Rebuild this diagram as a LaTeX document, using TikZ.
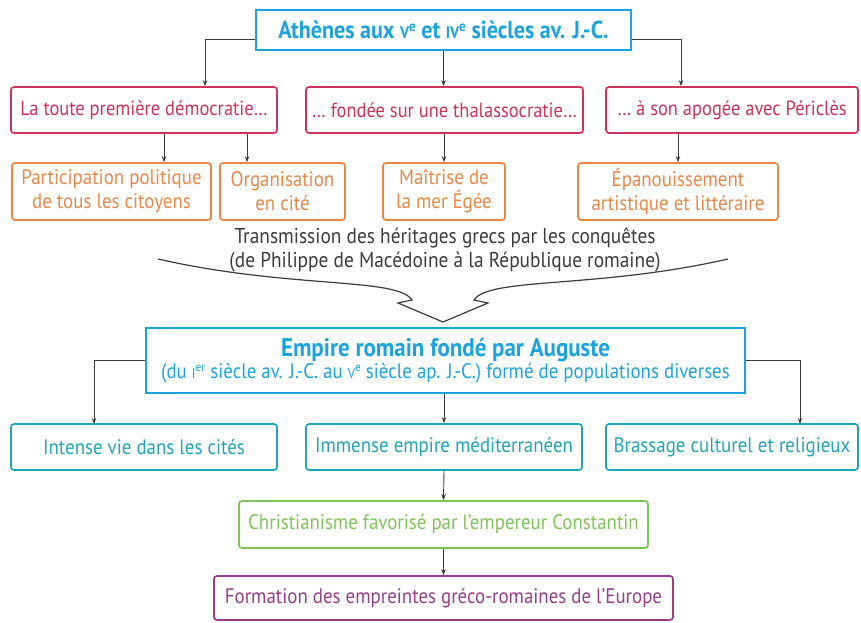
\documentclass[tikz,border=0pt]{standalone}
\usepackage{fontspec}
\setmainfont{PT Sans}[FakeStretch=0.9]
\usetikzlibrary{arrows.meta,positioning}

\definecolor{athcyan}{RGB}{27,163,222}
\definecolor{athred}{RGB}{204,52,92}
\definecolor{athorange}{RGB}{232,135,72}
\definecolor{romteal}{RGB}{32,165,182}
\definecolor{romgreen}{RGB}{126,196,88}
\definecolor{rompurple}{RGB}{150,62,140}
\definecolor{linkgray}{RGB}{60,60,60}

\newcommand{\romsmall}[1]{\scalebox{0.68}{#1}}
\newcommand{\supsmall}[1]{\raisebox{0.6ex}{\scalebox{0.6}{#1}}}

\begin{document}
\begin{tikzpicture}[x=1pt, y=-1pt,
    box/.style={draw, line width=1.7pt, rounded corners=3pt, align=center, inner sep=1pt, font=\fontsize{21}{24}\selectfont},
    headbox/.style={draw=athcyan, line width=2.4pt, text=athcyan, align=center, inner sep=1pt},
    arr/.style={-{Stealth[length=6pt, width=4.5pt]}, line width=0.9pt, linkgray},
]
\useasboundingbox (0,0) rectangle (861,622);

% Athens title
\node[headbox, minimum width=375pt, minimum height=40pt, font=\fontsize{24.5}{28}\selectfont\bfseries] (athens) at (443.5,30) {Athènes aux \romsmall{V}\supsmall{e} et \romsmall{IV}\supsmall{e} siècles av. J.-C.};

% Red row
\node[box, draw=athred, text=athred, minimum width=266pt, minimum height=46pt, font=\fontsize{20.5}{24}\selectfont] (demo) at (144,110) {La toute première démocratie…};
\node[box, draw=athred, text=athred, minimum width=277pt, minimum height=46pt, font=\fontsize{20.5}{24}\selectfont] (thalasso) at (444.5,110) {… fondée sur une thalassocratie…};
\node[box, draw=athred, text=athred, minimum width=252pt, minimum height=46pt, font=\fontsize{20.5}{24}\selectfont] (pericles) at (732,110) {… à son apogée avec Périclès};

% Orange row
\node[box, draw=athorange, text=athorange, minimum width=199pt, minimum height=57pt] (particip) at (111.5,191.5) {Participation politique\\de tous les citoyens};
\node[box, draw=athorange, text=athorange, minimum width=125pt, minimum height=57pt] (cite) at (282.5,191.5) {Organisation\\en cité};
\node[box, draw=athorange, text=athorange, minimum width=122pt, minimum height=57pt] (egee) at (444,191.5) {Maîtrise de\\la mer Égée};
\node[box, draw=athorange, text=athorange, minimum width=200pt, minimum height=57pt] (epanou) at (678,191.5) {Épanouissement\\artistique et littéraire};

% Transmission
\node[align=center, text=linkgray, font=\fontsize{21.5}{24}\selectfont] (transmis) at (445,250) {Transmission des héritages grecs par les conquêtes\\(de Philippe de Macédoine à la République romaine)};

% Roman empire title
\node[headbox, minimum width=599pt, minimum height=65pt] (empire) at (445.5,360.5) {{\fontsize{25.5}{28}\selectfont\bfseries Empire romain fondé par Auguste}\\{\fontsize{21}{24}\selectfont (du \romsmall{I}\supsmall{er} siècle av. J.-C. au \romsmall{V}\supsmall{e} siècle ap. J.-C.) formé de populations diverses}};

% Teal row
\node[box, draw=romteal, text=romteal, minimum width=266pt, minimum height=46pt] (cites) at (144,447) {Intense vie dans les cités};
\node[box, draw=romteal, text=romteal, minimum width=276pt, minimum height=46pt] (mediter) at (444,447) {Immense empire méditerranéen};
\node[box, draw=romteal, text=romteal, minimum width=252pt, minimum height=46pt] (brassage) at (732,447) {Brassage culturel et religieux};

% Green and purple
\node[box, draw=romgreen, text=romgreen, minimum width=409pt, minimum height=47pt] (christ) at (443.5,524.5) {Christianisme favorisé par l’empereur Constantin};
\node[box, draw=rompurple, text=rompurple, minimum width=459pt, minimum height=44pt] (europe) at (443.5,598) {Formation des empreintes gréco-romaines de l’Europe};

% Arrows from Athens
\draw[arr] ([yshift=-9pt]athens.west) -| ([xshift=61pt]demo.north);
\draw[arr] (athens.south) -- (athens.south |- thalasso.north);
\draw[arr] ([yshift=-9pt]athens.east) -| ([xshift=-51pt]pericles.north);
\draw[arr] ([xshift=20pt]demo.south) -- ([xshift=20pt]demo.south |- particip.north);
\draw[arr] ([xshift=103pt]demo.south) -- ([xshift=103pt]demo.south |- cite.north);
\draw[arr] (egee.north |- thalasso.south) -- (egee.north);
\draw[arr] (epanou.north |- pericles.south) -- (epanou.north);

% Big merging arrow
\coordinate (lstart) at (158,259);
\coordinate (rstart) at (728,259);
\coordinate (tip) at (443,322);
\draw[linkgray, line width=1.2pt, line join=miter] (lstart) .. controls (290,289) and (397,277) .. (412,300) -- (398,303) -- (tip) -- (488,303) -- (474,300) .. controls (489,277) and (596,289) .. (rstart);

% Arrows from Empire
\draw[arr] (empire.west) -| (94,424);
\draw[arr] (mediter.north |- empire.south) -- (mediter.north);
\draw[arr] (empire.east) -| (800,424);
\draw[arr] (mediter.south) -- (christ.north);
\draw[arr] (christ.south) -- (europe.north);

\end{tikzpicture}
\end{document}
